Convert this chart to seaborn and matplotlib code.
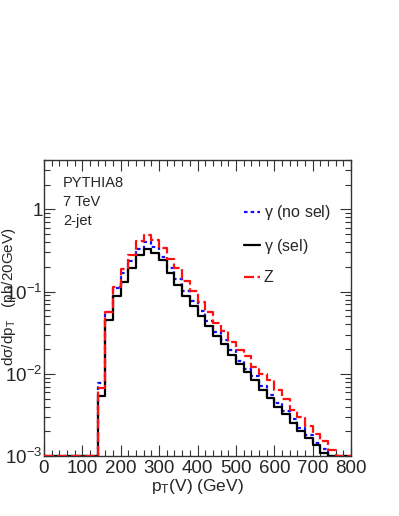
import numpy as np
import pandas as pd
import seaborn as sns
import matplotlib
matplotlib.use("Agg")
import matplotlib.pyplot as plt
from matplotlib.ticker import MultipleLocator, LogLocator, NullFormatter, FixedLocator, FixedFormatter

# ---- data: 20 GeV bins from 0 to 800 GeV (dsigma/dpT, pb/20GeV) ----
bin_edges = list(range(0, 820, 20))

gamma_nosel = [0, 0, 0, 0, 0, 0, 0,
               0.0077, 0.057, 0.110, 0.169, 0.234, 0.332, 0.399, 0.351, 0.262,
               0.194, 0.143, 0.103, 0.076, 0.0575, 0.0434, 0.0319, 0.026, 0.0195,
               0.0145, 0.0114, 0.0093, 0.0071, 0.0055, 0.0044, 0.0035, 0.0028,
               0.0022, 0.0018, 0.00145, 0.0012, 0, 0, 0]

gamma_sel = [0, 0, 0, 0, 0, 0, 0,
             0.0054, 0.0456, 0.0877, 0.131, 0.194, 0.277, 0.332, 0.293, 0.241,
             0.169, 0.122, 0.0894, 0.0675, 0.051, 0.0378, 0.0285, 0.0232, 0.0168,
             0.0132, 0.0106, 0.0083, 0.0064, 0.0051, 0.0040, 0.0032, 0.0025,
             0.0020, 0.00164, 0.00136, 0.0011, 0, 0, 0]

z_boson = [0, 0, 0, 0, 0, 0, 0,
           0.0067, 0.0565, 0.114, 0.189, 0.277, 0.41, 0.482, 0.42, 0.341,
           0.246, 0.194, 0.136, 0.103, 0.074, 0.056, 0.042, 0.0328, 0.0246,
           0.0196, 0.0163, 0.0121, 0.0100, 0.0083, 0.0064, 0.0049, 0.0036,
           0.0030, 0.0023, 0.00185, 0.00154, 0.00118, 0, 0]

series_labels = [r"$\gamma$ (no sel)", r"$\gamma$ (sel)", "Z"]
info_lines = ["PYTHIA8", "7 TeV", "2-jet"]
x_ticks = [0, 100, 200, 300, 400, 500, 600, 700, 800]
y_ticks = [1e-3, 1e-2, 1e-1, 1]
y_tick_labels = [r"$10^{-3}$", r"$10^{-2}$", r"$10^{-1}$", "1"]

YMIN, YMAX = 1e-3, 4.0

sns.set_style("ticks")
plt.rcParams["font.family"] = ["Liberation Sans", "DejaVu Sans"]
plt.rcParams["mathtext.default"] = "regular"

fig = plt.figure(figsize=(3.99, 5.16), dpi=100)
ax = fig.add_axes([0.110, 0.1163, 0.770, 0.5737])

def steps(vals):
    v = np.clip(np.asarray(vals, dtype=float), YMIN, None)
    return pd.DataFrame({"x": bin_edges, "y": np.append(v, v[-1])})

styles = [
    (gamma_nosel, "#1010ff", (0, (1.6, 1.4)), 1.6),
    (gamma_sel, "black", "-", 1.6),
    (z_boson, "#ff1010", (0, (4.5, 1.6)), 1.6),
]
for (vals, col, ls, lw), lab in zip(styles, series_labels):
    d = steps(vals)
    sns.lineplot(data=d, x="x", y="y", drawstyle="steps-post", color=col,
                 linestyle=ls, linewidth=lw, ax=ax, estimator=None, sort=False,
                 label=lab, zorder=3)

ax.set_yscale("log")
ax.set_xlim(0, 800)
ax.set_ylim(YMIN, YMAX)

ax.xaxis.set_major_locator(FixedLocator(x_ticks))
ax.xaxis.set_minor_locator(MultipleLocator(20))
ax.yaxis.set_major_locator(FixedLocator(y_ticks))
ax.yaxis.set_major_formatter(FixedFormatter(y_tick_labels))
ax.yaxis.set_minor_locator(LogLocator(base=10, subs=np.arange(2, 10), numticks=20))
ax.yaxis.set_minor_formatter(NullFormatter())

ax.tick_params(axis="both", which="major", direction="in", length=8, width=0.8,
               top=True, right=True, labelsize=13.5, color="#333333")
ax.tick_params(axis="both", which="minor", direction="in", length=4, width=0.8,
               top=True, right=True, color="#333333")
ax.tick_params(axis="x", which="major", pad=3)
ax.tick_params(axis="y", which="major", pad=1)
for s in ax.spines.values():
    s.set_color("#333333")
    s.set_linewidth(1.0)

ax.set_xlabel(r"$p_T$(V) (GeV)", fontsize=12.5, labelpad=0)
ax.set_ylabel(r"d$\sigma$/d$p_T$   (pb/20GeV)", fontsize=11)
ax.yaxis.set_label_coords(-0.085, 0.54)

for i, t in enumerate(info_lines):
    ax.text(0.063, 0.922 - i * 0.064, t, transform=ax.transAxes, fontsize=10.5,
            ha="left", va="center")

leg = ax.legend(loc="upper left", bbox_to_anchor=(0.63, 0.875), frameon=False,
                fontsize=11.5, handlelength=1.0, handletextpad=0.25,
                labelspacing=0.9, borderaxespad=0)

fig.savefig("out.png", dpi=100)
